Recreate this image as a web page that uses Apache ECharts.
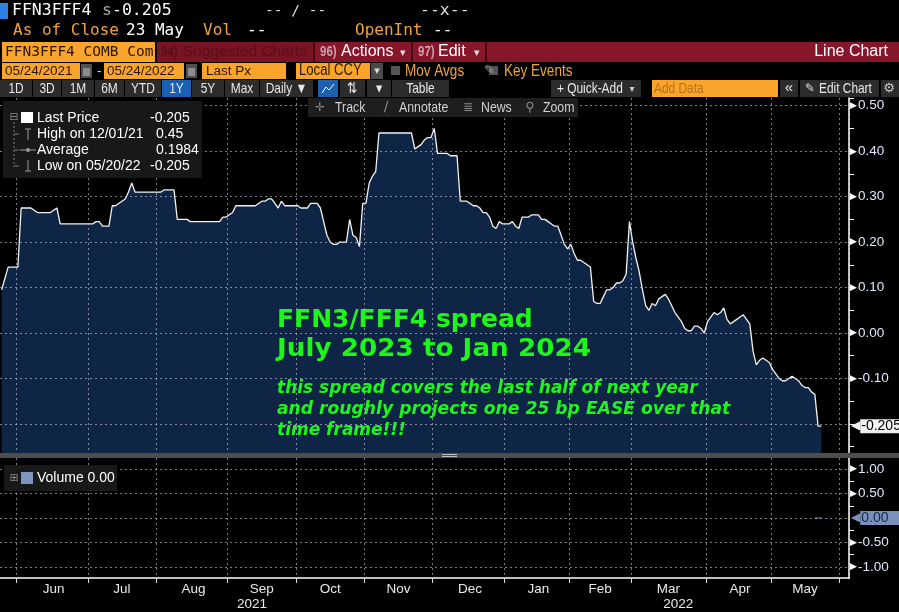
<!DOCTYPE html>
<html>
<head>
<meta charset="utf-8">
<script src="https://cdn.jsdelivr.net/npm/echarts@6/dist/echarts.min.js"></script>
<style>
html,body{margin:0;padding:0;background:#000;overflow:hidden;}
#c{width:899px;height:612px;}
</style>
</head>
<body>
<div id="c"></div>
<script>
// ---------------- DATA ----------------
// FFN3/FFF4 spread, daily closes by month (trading days)
const may2021 = [0.095, 0.12, 0.145, 0.145, 0.145];
const jun2021 = [0.145, 0.275, 0.275, 0.275, 0.275, 0.27, 0.265, 0.265, 0.265, 0.265, 0.265, 0.27, 0.275, 0.24, 0.24, 0.24, 0.24, 0.24, 0.24, 0.24, 0.24, 0.24];
const jul2021 = [0.24, 0.24, 0.245, 0.245, 0.235, 0.235, 0.235, 0.28, 0.28, 0.285, 0.29, 0.295, 0.31, 0.33, 0.31, 0.31, 0.31, 0.31, 0.31, 0.31, 0.31];
const aug2021 = [0.31, 0.31, 0.315, 0.315, 0.315, 0.315, 0.25, 0.25, 0.25, 0.25, 0.245, 0.245, 0.245, 0.245, 0.245, 0.245, 0.245, 0.245, 0.245, 0.245, 0.255, 0.255];
const sep2021 = [0.26, 0.265, 0.28, 0.28, 0.28, 0.28, 0.28, 0.28, 0.28, 0.285, 0.29, 0.29, 0.295, 0.295, 0.285, 0.275, 0.29, 0.28, 0.28, 0.28, 0.28];
const oct2021 = [0.28, 0.275, 0.275, 0.275, 0.285, 0.285, 0.285, 0.275, 0.245, 0.215, 0.2, 0.195, 0.195, 0.2, 0.2, 0.2, 0.25, 0.215, 0.21, 0.19, 0.285];
const nov2021 = [0.285, 0.33, 0.345, 0.355, 0.44, 0.44, 0.44, 0.44, 0.44, 0.44, 0.44, 0.44, 0.44, 0.44, 0.44, 0.405, 0.41, 0.415, 0.425, 0.43, 0.43];
const dec2021 = [0.45, 0.395, 0.395, 0.395, 0.395, 0.39, 0.39, 0.39, 0.29, 0.29, 0.29, 0.285, 0.28, 0.28, 0.275, 0.265, 0.265, 0.255, 0.235, 0.23, 0.245, 0.24];
const jan2022 = [0.24, 0.24, 0.245, 0.235, 0.23, 0.255, 0.255, 0.255, 0.26, 0.26, 0.26, 0.25, 0.25, 0.245, 0.24, 0.235, 0.235, 0.215, 0.195, 0.185];
const feb2022 = [0.195, 0.175, 0.16, 0.16, 0.155, 0.15, 0.145, 0.07, 0.065, 0.065, 0.08, 0.095, 0.095, 0.1, 0.11, 0.11, 0.115, 0.13, 0.245];
const mar2022 = [0.2, 0.165, 0.135, 0.095, 0.06, 0.05, 0.065, 0.06, 0.075, 0.08, 0.085, 0.075, 0.06, 0.045, 0.035, 0.025, 0.01, 0.005, 0.005, 0.015, 0.015, 0.01, 0.0];
const apr2022 = [0.025, 0.035, 0.045, 0.04, 0.045, 0.055, 0.03, 0.02, 0.025, 0.03, 0.035, 0.04, 0.03, 0.02, -0.04, -0.07, -0.06, -0.055, -0.06, -0.065];
const may2022 = [-0.08, -0.09, -0.1, -0.105, -0.105, -0.1, -0.095, -0.1, -0.105, -0.115, -0.12, -0.12, -0.13, -0.135, -0.205, -0.205];

// Volume (all zero) for the last sessions
const volumeRecent = [0, 0, 0];

// Calendar for the category axis (US trading days)
const firstDate = '2021-05-24';
const axisEndDate = '2022-06-03';
const holidays = ['2021-05-31', '2021-07-05', '2021-09-06', '2021-11-25', '2021-12-24', '2022-01-17', '2022-02-21', '2022-04-15', '2022-05-30'];
const monthNames = ['Jan', 'Feb', 'Mar', 'Apr', 'May', 'Jun', 'Jul', 'Aug', 'Sep', 'Oct', 'Nov', 'Dec'];

// Legend / header texts
const legendRows = [
  ['Last Price', '-0.205'],
  ['High on 12/01/21', '0.45'],
  ['Average', '0.1984'],
  ['Low on 05/20/22', '-0.205']
];
const titleLines = ['FFN3/FFF4 spread', 'July 2023 to Jan 2024'];
const noteLines = ['this spread covers the last half of next year', 'and roughly projects one 25 bp EASE over that', 'time frame!!!'];

// ---------------- BUILD ----------------
const spreadValues = [].concat(may2021, jun2021, jul2021, aug2021, sep2021, oct2021, nov2021, dec2021, jan2022, feb2022, mar2022, apr2022, may2022);

function tradingDays(start, end, hol) {
  const out = [];
  const d = new Date(start + 'T00:00:00Z');
  const e = new Date(end + 'T00:00:00Z');
  while (d <= e) {
    const wd = d.getUTCDay();
    const s = d.toISOString().slice(0, 10);
    if (wd !== 0 && wd !== 6 && hol.indexOf(s) < 0) out.push(s);
    d.setUTCDate(d.getUTCDate() + 1);
  }
  return out;
}
const dates = tradingDays(firstDate, axisEndDate, holidays);
const N = dates.length;

const monthStarts = [];
for (let i = 1; i < N; i++) if (dates[i].slice(0, 7) !== dates[i - 1].slice(0, 7)) monthStarts.push(i);
const monthStartSet = new Set(monthStarts);
const monthLabelIdx = new Map();
for (let k = 0; k < monthStarts.length - 1; k++) {
  const s = monthStarts[k], n = monthStarts[k + 1];
  monthLabelIdx.set(Math.floor((s + n) / 2), monthNames[+dates[s].slice(5, 7) - 1]);
}
const yearStarts = [];
for (let i = 1; i < N; i++) if (dates[i].slice(0, 4) !== dates[i - 1].slice(0, 4)) yearStarts.push(i);
const yearStartSet = new Set(yearStarts);
const yb = [0].concat(yearStarts, [N]);
const yearLabelIdx = new Map();
for (let k = 0; k < yb.length - 1; k++) yearLabelIdx.set(Math.floor((yb[k] + yb[k + 1]) / 2), dates[yb[k]].slice(0, 4));

const lastPrice = spreadValues[spreadValues.length - 1];
const lastVolume = volumeRecent[volumeRecent.length - 1];
const volumeData = volumeRecent.map((v, k) => [dates[spreadValues.length - volumeRecent.length + k], v]);

// layout: first point sits on the left edge, axis line at x=849
const band = 849 / (N - 0.5);
const GL = -band / 2;

const UI = '"Liberation Sans", Arial, sans-serif';
const MONO = '"DejaVu Sans Mono", "Liberation Mono", monospace';
const ORANGE = '#f2a23a';
const OBOX = '#f9a52c';
const GRIDC = 'rgba(205,205,225,0.6)';
const GREEN = '#1ff51a';
const NOTICK = { show: true, length: 0, lineStyle: { color: 'rgba(0,0,0,0)', width: 0 } };

// ---------------- GRAPHIC (terminal chrome) ----------------
const G = [];
function R(x, y, w, h, fill, z) { G.push({ type: 'rect', silent: true, z: z || 100, shape: { x: x, y: y, width: w, height: h }, style: { fill: fill } }); }
function T(x, y, text, font, fill, align, sx) {
  G.push({ type: 'text', silent: true, z: 102, x: x, y: y, scaleX: sx || 1,
    style: { text: text, font: font, fill: fill, align: align || 'left', textAlign: align || 'left', verticalAlign: 'middle', textVerticalAlign: 'middle' } });
}
// condensed Bloomberg-like UI text
function TN(x, y, text, size, fill, align) { T(x, y, text, size + 'px ' + UI, fill, align, 0.82); }
function L(x1, y1, x2, y2, stroke, w, dash) {
  G.push({ type: 'line', silent: true, z: 102, shape: { x1: x1, y1: y1, x2: x2, y2: y2 }, style: { stroke: stroke, lineWidth: w || 1, lineDash: dash || null } });
}

// Row 1
R(0, 3, 8, 16, '#2e7fe6');
T(12, 11, 'FFN3FFF4', '16.5px ' + MONO, '#ffffff');
T(102, 11, 's', '16.5px ' + MONO, '#a8a8a8');
T(112, 11, '-0.205', '16.5px ' + MONO, '#ffffff');
T(265, 11, '-- / --', '14.5px ' + MONO, '#dddddd');
T(420, 11, '--x--', '16.5px ' + MONO, '#dddddd');
// Row 2
T(13, 31, 'As of Close', '16px ' + MONO, ORANGE);
T(126, 31, '23 May', '16px ' + MONO, '#ffffff');
T(203, 31, 'Vol', '16px ' + MONO, ORANGE);
T(247, 31, '--', '16px ' + MONO, '#ffffff');
T(355, 31, 'OpenInt', '16px ' + MONO, ORANGE);
T(433, 31, '--', '16px ' + MONO, '#ffffff');
// Row 3
R(2, 42, 153, 20, OBOX);
T(5, 52, 'FFN3FFF4 COMB Com', '14.5px ' + MONO, '#2a1600');
R(157, 42, 742, 20, '#86162a');
R(157, 42, 156, 20, '#7a1323');
TN(161, 52, '94)', 'bold 14', '#5a0e18');
T(183, 52, 'Suggested Charts', '15.5px ' + UI, '#5a0e18');
R(313, 42, 2, 20, '#4a0810');
R(411, 42, 2, 20, '#4a0810');
R(485, 42, 2, 20, '#4a0810');
TN(320, 52, '96)', 'bold 14', '#c9a3ab');
T(341, 52, 'Actions', '16px ' + UI, '#ffffff');
T(400, 53, '▾', '11px "DejaVu Sans"', '#dddddd');
TN(418, 52, '97)', 'bold 14', '#c9a3ab');
T(438, 52, 'Edit', '16px ' + UI, '#ffffff');
T(474, 53, '▾', '11px "DejaVu Sans"', '#dddddd');
T(888, 52, 'Line Chart', '16px ' + UI, '#ffffff', 'right');
// Row 4
R(2, 63, 78, 16, OBOX); T(5, 71, '05/24/2021', '13.5px ' + UI, '#2a1600');
R(81, 64, 11, 14, '#505050'); R(83, 68, 7, 8, '#8c8c8c');
T(97, 71, '-', '13.5px ' + UI, '#dddddd');
R(104, 63, 80, 16, OBOX); T(107, 71, '05/24/2022', '13.5px ' + UI, '#2a1600');
R(186, 64, 11, 14, '#505050'); R(188, 68, 7, 8, '#8c8c8c');
R(202, 63, 84, 16, OBOX); T(206, 71, 'Last Px', '13.5px ' + UI, '#2a1600');
R(296, 63, 74, 16, OBOX); TN(299, 71, 'Local CCY', 16, '#2a1600');
R(371, 63, 12, 16, '#4a4a4a'); T(377, 71, '▾', '11px "DejaVu Sans"', '#dddddd', 'center');
R(391, 66, 9, 9, '#555555'); TN(405, 71, 'Mov Avgs', 16.5, ORANGE);
T(484, 71, '✎', '13px "DejaVu Sans"', '#9a9a9a');
R(489, 66, 9, 9, '#555555'); TN(504, 71, 'Key Events', 16.5, ORANGE);
// Row 5 buttons
const btns = [['1D', 0, 32], ['3D', 33, 61], ['1M', 62, 94], ['6M', 95, 124], ['YTD', 125, 161], ['1Y', 162, 191, '#1a5fb4'], ['5Y', 192, 224], ['Max', 225, 259], ['Daily ▼', 260, 313], ['', 318, 338, '#1f5fb0'], ['⇅', 340, 365], ['▾', 367, 391], ['Table', 392, 449]];
btns.forEach(b => {
  R(b[1], 80, b[2] - b[1], 17, b[3] || '#2c2c2c');
  if (b[0]) TN((b[1] + b[2]) / 2, 88.5, b[0], 14.5, '#e8e8e8', 'center');
});
G.push({ type: 'polyline', silent: true, z: 102, shape: { points: [[322, 93], [326, 87], [329, 90], [334, 84]] }, style: { stroke: '#ffffff', lineWidth: 1, fill: null } });
R(551, 80, 90, 17, '#2c2c2c');
TN(557, 88.5, '+ Quick-Add', 14.5, '#e8e8e8');
T(632, 89, '▾', '10px "DejaVu Sans"', '#cccccc', 'center');
R(652, 80, 126, 17, OBOX);
TN(654, 88.5, 'Add Data', 14.5, '#b8701a');
R(780, 80, 18, 17, '#2c2c2c');
T(789, 88, '«', '15px ' + UI, '#e8e8e8', 'center');
R(800, 80, 79, 17, '#2c2c2c');
T(805, 88.5, '✎', '12px "DejaVu Sans"', '#dddddd');
TN(819, 88.5, 'Edit Chart', 14.5, '#e8e8e8');
R(881, 80, 18, 17, '#2c2c2c');
T(889, 88.5, '⚙', '13px "DejaVu Sans"', '#cccccc', 'center');

// Plot toolbar
R(308, 98, 270, 19, '#1e1e1e');
T(320, 107.5, '✛', '12px "DejaVu Sans"', '#8a8a8a', 'center');
TN(335, 107.5, 'Track', 15, '#cfcfcf');
T(386, 107.5, '∕', '14px "DejaVu Sans"', '#8a8a8a', 'center');
TN(399, 107.5, 'Annotate', 15, '#cfcfcf');
T(468, 107.5, '≣', '12px "DejaVu Sans"', '#8a8a8a', 'center');
TN(481, 107.5, 'News', 15, '#cfcfcf');
T(530, 107.5, '⚲', '13px "DejaVu Sans"', '#8a8a8a', 'center');
TN(543, 107.5, 'Zoom', 15, '#cfcfcf');

// Main legend box
R(3, 101, 199, 77, '#181818');
T(14, 117, '⊟', '11px "DejaVu Sans"', '#8a8a8a', 'center');
R(21, 112, 12, 11, '#ffffff', 102);
L(14, 122, 14, 167, '#7a7a7a', 1, [2, 2]);
L(14, 134, 19, 134, '#7a7a7a'); L(14, 150, 19, 150, '#7a7a7a'); L(14, 166, 19, 166, '#7a7a7a');
L(28, 129, 28, 140, '#9a9a9a'); L(25, 129, 31, 129, '#9a9a9a');
L(20, 150, 36, 150, '#9a9a9a');
G.push({ type: 'circle', silent: true, z: 103, shape: { cx: 28, cy: 150, r: 2 }, style: { fill: '#9a9a9a' } });
L(28, 160, 28, 171, '#9a9a9a'); L(25, 171, 31, 171, '#9a9a9a');
legendRows.forEach((r, k) => {
  const y = 118 + 16 * k;
  T(37, y, r[0], '14px ' + UI, '#ffffff');
  T(r[1].charAt(0) === '-' ? 150 : 156, y, r[1], '14px ' + UI, '#ffffff');
});

// Panel separator
R(0, 453, 899, 5, '#4d4d4d');
R(442, 454, 15, 1, '#bdbdbd'); R(442, 456, 15, 1, '#bdbdbd');

// Hide the automatic edge ticks of the date axes (below the volume panel)
R(-2, 579, 5, 33, '#000000', 110);
R(845, 579, 9, 33, '#000000', 110);

// Volume legend
R(4, 465, 113, 26, '#181818');
T(14, 478, '⊞', '11px "DejaVu Sans"', '#8a8a8a', 'center');
R(21, 472, 12, 12, '#8094c0', 102);
T(37, 478, 'Volume ' + lastVolume.toFixed(2), '14px ' + UI, '#ffffff');

// Annotation
T(277, 320.8, titleLines[0], 'bold 25px "DejaVu Sans"', GREEN);
T(277, 349.6, titleLines[1], 'bold 25px "DejaVu Sans"', GREEN, 'left', 1.05);
[388.5, 409.5, 430.5].forEach((y, k) => T(277, y, noteLines[k], 'italic bold 17px "DejaVu Sans"', GREEN, 'left', k === 1 ? 1.01 : 1));

// ---------------- CHART ----------------
const splitLineStyle = { color: GRIDC, type: [2, 3], width: 1 };
const option = {
  backgroundColor: '#000000',
  animation: false,
  grid: [
    { left: GL, right: 50, top: 98, bottom: 159 },
    { left: GL, right: 50, top: 458, bottom: 34 }
  ],
  xAxis: [
    { type: 'category', gridIndex: 0, data: dates, boundaryGap: true, z: 3,
      axisLine: { show: false, onZero: false },
      axisTick: Object.assign({ interval: (i) => monthStartSet.has(i) }, NOTICK),
      axisLabel: { show: false },
      splitLine: { show: true, interval: (i) => monthStartSet.has(i), lineStyle: splitLineStyle } },
    { type: 'category', gridIndex: 1, data: dates, boundaryGap: true, z: 3,
      axisLine: { show: true, onZero: false, lineStyle: { color: '#ffffff', width: 1.5 } },
      axisTick: { show: true, length: 5, interval: (i) => monthStartSet.has(i), lineStyle: { color: '#dddddd' } },
      axisLabel: { show: true, interval: (i) => monthLabelIdx.has(i), formatter: (v, i) => monthLabelIdx.get(i) || '',
        color: '#e8e8e8', fontFamily: UI, fontSize: 13.5, margin: 4, hideOverlap: false },
      splitLine: { show: true, interval: (i) => monthStartSet.has(i), lineStyle: splitLineStyle } },
    { type: 'category', gridIndex: 1, data: dates, boundaryGap: true, position: 'bottom', offset: 17, z: 3,
      axisLine: { show: false, onZero: false },
      axisTick: { show: true, length: 17, interval: (i) => yearStartSet.has(i), lineStyle: { color: '#9a9a9a' } },
      axisLabel: { show: true, interval: (i) => yearLabelIdx.has(i), formatter: (v, i) => yearLabelIdx.get(i) || '',
        color: '#e8e8e8', fontFamily: UI, fontSize: 13.5, margin: 2, hideOverlap: false },
      splitLine: { show: false } }
  ],
  yAxis: [
    { type: 'value', gridIndex: 0, position: 'right', min: -0.264, max: 0.517, splitNumber: 7, z: 3,
      axisLine: { show: true, onZero: false, lineStyle: { color: '#ffffff', width: 1.5 } },
      axisTick: NOTICK,
      axisLabel: { show: true, margin: 1, showMinLabel: false, showMaxLabel: false,
        formatter: (v) => Math.abs(v - lastPrice) < 0.02 ? '' : '{t|▶}{v|' + v.toFixed(2) + '}',
        rich: { t: { color: '#ffffff', fontSize: 9, fontFamily: '"DejaVu Sans"', padding: [0, 1, 0, 0] },
                v: { color: '#dfe7fb', fontSize: 13.5, fontFamily: UI } } },
      splitLine: { show: true, showMinLine: false, showMaxLine: false, lineStyle: splitLineStyle } },
    { type: 'value', gridIndex: 0, position: 'right', min: -0.264, max: 0.517, splitNumber: 15, z: 3,
      axisLine: { show: false, onZero: false }, axisLabel: { show: false }, splitLine: { show: false },
      axisTick: { show: true, length: 5, lineStyle: { color: '#ffffff' } } },
    { type: 'value', gridIndex: 1, position: 'right', min: -1.2245, max: 1.2245, splitNumber: 5, z: 3,
      axisLine: { show: true, onZero: false, lineStyle: { color: '#ffffff', width: 1.5 } },
      axisTick: NOTICK,
      minorTick: { show: true, splitNumber: 2, length: 5, lineStyle: { color: '#ffffff' } },
      axisLabel: { show: true, margin: 1, showMinLabel: false, showMaxLabel: false,
        formatter: (v) => Math.abs(v - lastVolume) < 0.2 ? '' : '{t|▶}{v|' + v.toFixed(2) + '}',
        rich: { t: { color: '#ffffff', fontSize: 9, fontFamily: '"DejaVu Sans"', padding: [0, 1, 0, 0] },
                v: { color: '#dfe7fb', fontSize: 13.5, fontFamily: UI } } },
      splitLine: { show: true, showMinLine: false, showMaxLine: false, lineStyle: splitLineStyle } }
  ],
  series: [
    { name: 'FFN3FFF4', type: 'line', xAxisIndex: 0, yAxisIndex: 0, data: spreadValues,
      symbol: 'none', showSymbol: false, z: 2,
      lineStyle: { color: '#f2f2f2', width: 1.3 },
      areaStyle: { color: '#0f2546', opacity: 1, origin: 'start' },
      markLine: { silent: true, symbol: ['none', 'none'], animation: false, precision: 3,
        lineStyle: { color: 'rgba(0,0,0,0)', width: 0 },
        data: [{ yAxis: lastPrice }],
        label: { show: true, position: 'end', distance: 2,
          formatter: () => '{a|◀}{b|' + lastPrice.toFixed(3) + '}',
          rich: { a: { color: '#f2f2f2', fontFamily: '"DejaVu Sans"', fontSize: 12, lineHeight: 14 },
                  b: { backgroundColor: '#f2f2f2', color: '#000000', fontFamily: UI, fontSize: 14, lineHeight: 14, padding: [0, 3, 0, 1] } } } } },
    { name: 'Volume', type: 'line', xAxisIndex: 1, yAxisIndex: 2, data: volumeData,
      symbol: 'none', showSymbol: false, z: 2,
      lineStyle: { color: '#7a90bd', width: 1 },
      markLine: { silent: true, symbol: ['none', 'none'], animation: false,
        lineStyle: { color: 'rgba(0,0,0,0)', width: 0 },
        data: [{ yAxis: lastVolume }],
        label: { show: true, position: 'end', distance: 2,
          formatter: () => '{a|◀}{b|' + lastVolume.toFixed(2) + '}',
          rich: { a: { color: '#7b90bb', fontFamily: '"DejaVu Sans"', fontSize: 12, lineHeight: 14 },
                  b: { backgroundColor: '#7b90bb', color: '#1b2a48', fontFamily: UI, fontSize: 14, lineHeight: 14, padding: [0, 12, 0, 1] } } } } }
  ],
  graphic: { elements: G }
};

const chart = echarts.init(document.getElementById('c'), null, { renderer: 'canvas' });
chart.setOption(option);
</script>
</body>
</html>
